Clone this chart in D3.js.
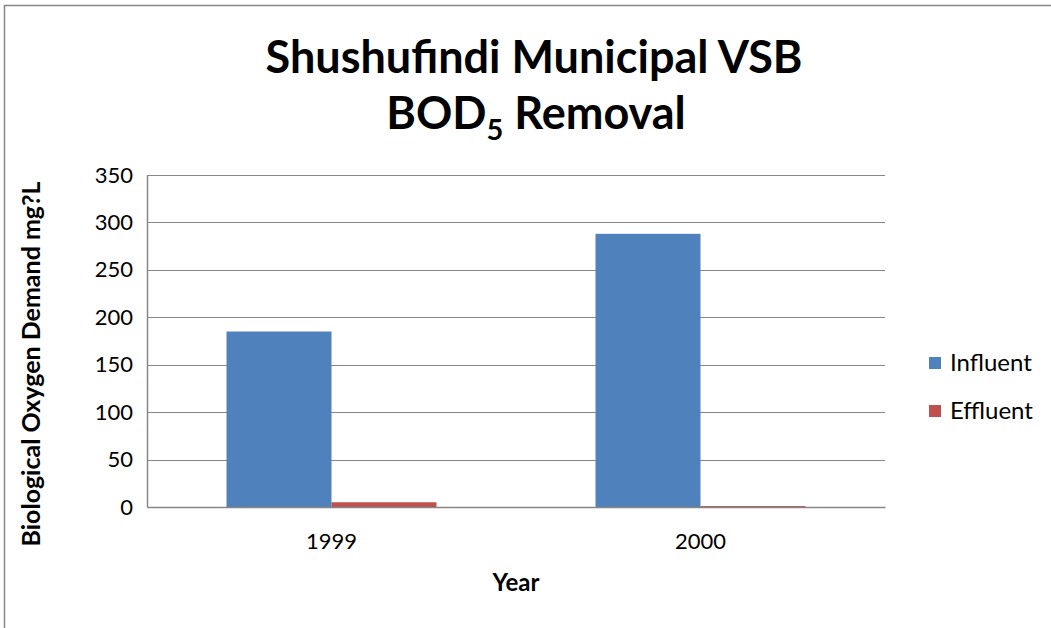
<!DOCTYPE html>
<html>
<head>
<meta charset="utf-8">
<script src="https://cdn.jsdelivr.net/npm/d3@7"></script>
<style>
  body { margin: 0; background: #fff; }
  text { font-family: Lato, "Open Sans", sans-serif; }
</style>
</head>
<body>
<div id="graph"></div>
<script>
var years = ['1999', '2000'];
var seriesNames = ['Influent', 'Effluent'];
var influent = [185, 288];
var effluent = [5, 1];
var yTicks = [0, 50, 100, 150, 200, 250, 300, 350];
var colors = ['#4F81BD', '#C0504D'];

var width = 1051, height = 628;
var plot = {left: 147, right: 885, top: 175, bottom: 507};

var svg = d3.select('#graph').append('svg')
  .attr('width', width).attr('height', height);

// outer chart frame (only top and left edges are in view)
svg.append('rect')
  .attr('x', 4.5).attr('y', 5.5)
  .attr('width', width + 10).attr('height', height + 10)
  .attr('fill', 'none').attr('stroke', '#868686').attr('stroke-width', 1.5);

var x0 = d3.scaleBand().domain(years).range([plot.left, plot.right]);
// two bars of ~105px side by side, centered in each category
var x1 = d3.scaleBand().domain(seriesNames)
  .range([x0.bandwidth() / 2 - 105, x0.bandwidth() / 2 + 105]).padding(0);

var y = d3.scaleLinear().domain([0, 350]).range([plot.bottom, plot.top]);

// gridlines
svg.append('g').selectAll('line').data(yTicks.filter(function(d){ return d > 0; }))
  .enter().append('line')
  .attr('x1', plot.left).attr('x2', plot.right)
  .attr('y1', function(d){ return Math.round(y(d)) + 0.5; })
  .attr('y2', function(d){ return Math.round(y(d)) + 0.5; })
  .attr('stroke', '#868686').attr('stroke-width', 1.2);

// bars
var rows = years.map(function(yr, i){
  return {year: yr, values: [influent[i], effluent[i]]};
});
var groups = svg.append('g').selectAll('g').data(rows).enter().append('g')
  .attr('transform', function(d){ return 'translate(' + x0(d.year) + ',0)'; });
groups.selectAll('rect').data(function(d){
    return d.values.map(function(v, j){ return {name: seriesNames[j], value: v, c: colors[j]}; });
  }).enter().append('rect')
  .attr('x', function(d){ return x1(d.name); })
  .attr('width', x1.bandwidth())
  .attr('y', function(d){ return y(d.value); })
  .attr('height', function(d){ return y(0) - y(d.value); })
  .attr('fill', function(d){ return d.c; });

// axes
var yAxis = d3.axisLeft(y).tickValues(yTicks).tickSize(0).tickPadding(14);
var gy = svg.append('g').attr('transform', 'translate(' + plot.left + ',0)').call(yAxis);
gy.select('.domain').attr('stroke', '#868686').attr('stroke-width', 1.5);
gy.selectAll('text').attr('font-size', '22px').attr('fill', '#000')
  .style('font-family', 'Lato, sans-serif');

var xAxis = d3.axisBottom(x0).tickSize(0).tickPadding(26);
var gx = svg.append('g').attr('transform', 'translate(0,' + plot.bottom + ')').call(xAxis);
gx.select('.domain').attr('stroke', '#868686').attr('stroke-width', 1.5);
gx.selectAll('text').attr('font-size', '22px').attr('fill', '#000')
  .style('font-family', 'Lato, sans-serif');

// title
svg.append('text').attr('text-anchor', 'middle')
  .attr('font-weight', 'bold').attr('font-size', '45px')
  .attr('x', 534).attr('y', 73).text('Shushufindi Municipal VSB');
var t2 = svg.append('text').attr('text-anchor', 'middle')
  .attr('font-weight', 'bold').attr('font-size', '45px')
  .attr('x', 536).attr('y', 129);
t2.append('tspan').text('BOD');
t2.append('tspan').attr('font-size', '29px').attr('dy', 11).text('5');
t2.append('tspan').attr('dy', -11).text(' Removal');

// axis titles
svg.append('text').attr('x', 516).attr('y', 591).attr('text-anchor', 'middle')
  .attr('font-weight', 'bold').attr('font-size', '24px').text('Year');
svg.append('text').attr('transform', 'translate(40,364) rotate(-90)')
  .attr('text-anchor', 'middle').attr('font-weight', 'bold').attr('font-size', '25px')
  .text('Biological Oxygen Demand mg?L');

// legend
var legend = svg.append('g').selectAll('g').data(seriesNames).enter().append('g')
  .attr('transform', function(d, i){ return 'translate(929,' + (357 + i * 48) + ')'; });
legend.append('rect').attr('width', 12).attr('height', 12)
  .attr('fill', function(d, i){ return colors[i]; });
legend.append('text').attr('x', 21).attr('y', 14).attr('font-size', '24px').text(function(d){ return d; });
</script>
</body>
</html>
